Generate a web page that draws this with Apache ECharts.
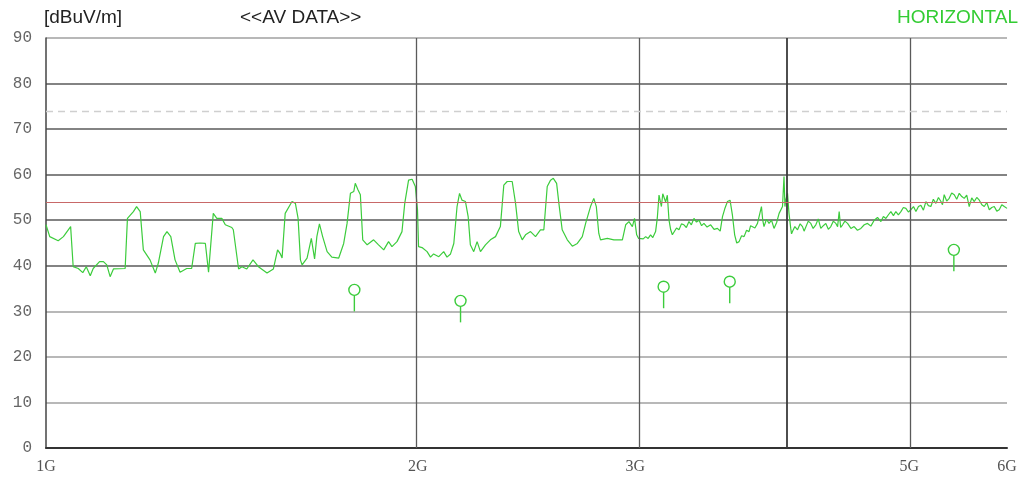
<!DOCTYPE html>
<html>
<head>
<meta charset="utf-8">
<script src="https://cdn.jsdelivr.net/npm/echarts@6/dist/echarts.min.js"></script>
<style>
  html, body { margin: 0; padding: 0; background: #fff; }
  #chart { width: 1023px; height: 483px; }
</style>
</head>
<body>
<div id="chart"></div>
<script>
// Average-detector sweep, 1 GHz - 6 GHz (frequency in MHz, level in dBuV/m)
const freqMHz = [
  1000, 1007, 1023, 1033, 1047, 1052, 1062, 1071, 1078, 1086, 1092, 1105, 1113, 1120, 1127, 1134,
  1159, 1164, 1177, 1184, 1192, 1199, 1214, 1226, 1233, 1245, 1253, 1262, 1272, 1284, 1300, 1312,
  1321, 1333, 1346, 1354, 1366, 1375, 1388, 1397, 1414, 1418, 1432, 1441, 1454, 1471, 1486, 1510,
  1528, 1540, 1548, 1553, 1562, 1582, 1592, 1600, 1607, 1612, 1627, 1640, 1650, 1657, 1665, 1675,
  1689, 1704, 1726, 1742, 1753, 1764, 1775, 1780, 1789, 1797, 1805, 1820, 1842, 1859, 1877, 1894,
  1906, 1924, 1942, 1952, 1966, 1979, 1991, 1999, 2003, 2016, 2035, 2048, 2060, 2080, 2099, 2112,
  2126, 2139, 2152, 2162, 2172, 2186, 2197, 2206, 2220, 2234, 2248, 2269, 2290, 2312, 2333, 2348,
  2363, 2385, 2400, 2414, 2430, 2445, 2468, 2491, 2514, 2530, 2546, 2562, 2575, 2591, 2602, 2618,
  2643, 2668, 2693, 2718, 2735, 2760, 2777, 2790, 2803, 2812, 2848, 2883, 2929, 2947, 2965, 2984,
  2996, 3008, 3019, 3030, 3045, 3059, 3073, 3087, 3100, 3116, 3126, 3136, 3150, 3158, 3165, 3175,
  3185, 3195, 3205, 3215, 3225, 3240, 3255, 3270, 3285, 3300, 3316, 3331, 3347, 3363, 3379, 3395,
  3410, 3430, 3453, 3475, 3497, 3515, 3530, 3545, 3563, 3580, 3596, 3611, 3625, 3641, 3658, 3675,
  3692, 3709, 3720, 3733, 3750, 3768, 3782, 3796, 3805, 3814, 3832, 3850, 3868, 3886, 3905, 3923,
  3948, 3959, 3966, 3972, 3985, 3996, 4009, 4015, 4022, 4040, 4060, 4080, 4098, 4110, 4123, 4142,
  4162, 4180, 4201, 4220, 4240, 4260, 4280, 4300, 4320, 4340, 4361, 4375, 4388, 4400, 4416, 4435,
  4457, 4485, 4512, 4540, 4569, 4598, 4626, 4655, 4684, 4713, 4743, 4765, 4787, 4810, 4832, 4855,
  4877, 4900, 4923, 4946, 4969, 4992, 5016, 5040, 5063, 5087, 5110, 5134, 5158, 5182, 5206, 5230,
  5255, 5280, 5305, 5320, 5337, 5362, 5387, 5412, 5438, 5463, 5489, 5515, 5540, 5566, 5592, 5618,
  5645, 5671, 5698, 5725, 5751, 5778, 5805, 5832, 5859, 5887, 5914, 5942, 5970, 6000
];
const levelAv = [
  49.0, 46.4, 45.5, 46.4, 48.6, 39.8, 39.4, 38.5, 39.8, 37.8, 39.4, 40.9, 40.9, 40.2, 37.6, 39.3,
  39.4, 50.4, 51.9, 53.0, 51.9, 43.5, 41.3, 38.4, 40.6, 46.4, 47.5, 46.4, 41.3, 38.6, 39.4, 39.4,
  44.9, 45.0, 44.9, 38.6, 51.5, 50.4, 50.4, 49.0, 48.4, 47.9, 39.3, 39.8, 39.3, 41.3, 39.8, 38.4,
  39.3, 43.5, 42.6, 41.7, 51.5, 54.1, 53.7, 50.4, 41.3, 40.2, 41.7, 46.0, 41.5, 46.4, 49.2, 46.4,
  43.1, 41.9, 41.7, 44.9, 49.3, 55.9, 56.3, 58.1, 56.7, 55.6, 45.7, 44.6, 45.7, 44.6, 43.5, 45.3,
  44.2, 45.3, 47.5, 53.7, 58.8, 59.0, 57.4, 52.3, 44.2, 44.0, 43.1, 41.9, 42.6, 42.0, 43.1, 41.9,
  42.6, 44.9, 53.0, 55.9, 54.4, 54.1, 50.8, 44.6, 43.1, 45.3, 43.1, 44.6, 45.7, 46.4, 48.6, 57.7,
  58.5, 58.5, 53.7, 47.5, 45.7, 46.8, 47.5, 46.4, 47.9, 47.9, 57.4, 58.8, 59.2, 58.1, 53.7, 47.9,
  45.7, 44.3, 44.9, 46.4, 49.3, 53.0, 54.8, 53.0, 47.1, 45.7, 46.0, 45.7, 45.7, 49.0, 49.7, 48.6,
  50.4, 46.8, 46.0, 46.4, 45.9, 46.4, 46.0, 46.8, 46.2, 47.5, 50.5, 55.5, 53.0, 55.8, 55.5, 54.0,
  55.5, 50.0, 47.9, 46.8, 47.1, 48.3, 47.9, 49.2, 49.0, 48.4, 49.7, 49.0, 50.4, 49.6, 50.0, 48.8,
  49.3, 48.5, 49.0, 48.0, 48.2, 47.6, 50.8, 52.5, 54.1, 54.4, 51.1, 46.8, 45.0, 45.3, 46.6, 46.4,
  47.8, 47.5, 48.8, 49.0, 48.3, 49.3, 49.0, 53.0, 50.0, 48.6, 50.2, 49.3, 50.0, 48.2, 49.5, 51.5,
  53.0, 59.6, 53.0, 54.4, 55.9, 51.5, 48.2, 47.0, 47.5, 48.6, 47.9, 49.2, 48.6, 47.6, 47.9, 49.8,
  49.3, 48.2, 49.0, 50.3, 48.2, 48.8, 49.3, 48.0, 48.6, 49.8, 49.3, 48.6, 51.9, 48.4, 49.0, 49.8,
  49.3, 48.2, 48.6, 47.8, 48.2, 49.0, 49.3, 48.7, 50.0, 50.6, 49.7, 50.8, 50.4, 51.2, 51.9, 51.0,
  51.9, 51.2, 51.9, 52.8, 52.6, 51.8, 52.3, 53.0, 51.9, 53.0, 53.3, 52.2, 54.1, 53.2, 53.0, 54.6,
  53.7, 55.0, 54.1, 53.4, 55.6, 54.2, 54.8, 56.0, 55.6, 54.6, 55.9, 55.2, 54.8, 55.5, 53.0, 54.9,
  54.1, 55.0, 54.4, 53.4, 53.0, 53.9, 52.3, 52.8, 53.0, 52.0, 52.3, 53.4, 53.0, 52.6
];

// Final measurement points
const peakFreqMHz = [1777, 2166, 3163, 3578, 5434];
const peakLevel = [34.7, 32.3, 35.4, 36.5, 43.5];

// Limit lines (dBuV/m)
const limitAv = 54;
const limitPk = 74;

// Frequency grid and labelled ticks (MHz)
const gridFreqMHz = [2000, 3000, 4000, 5000];
const labelFreqMHz = [1000, 2000, 3000, 5000, 6000];

const lg = Math.log10;
const fMin = 1000, fMax = 6000;
const traceGreen = '#3ccc3c';

const chart = echarts.init(document.getElementById('chart'), null, { renderer: 'canvas' });

const gridLines = gridFreqMHz.map(f => ({
  xAxis: lg(f),
  lineStyle: { color: f === 4000 ? '#3a3a3a' : '#5a5a5a', width: f === 4000 ? 1.8 : 1.3, type: 'solid' }
}));
gridLines.push({ xAxis: lg(fMax), lineStyle: { color: '#8a8a8a', width: 1.3, type: 'solid' } });
gridLines.push({ yAxis: limitPk, lineStyle: { color: '#cfcfcf', width: 1.3, type: [7, 5] } });
gridLines.push({ yAxis: limitAv, lineStyle: { color: '#c86868', width: 1.2, type: 'solid' } });

chart.setOption({
  animation: false,
  backgroundColor: '#fff',
  grid: { left: 46, right: 16, top: 38, bottom: 35, containLabel: false },
  graphic: [
    { type: 'text', left: 44, top: 8, style: { text: '[dBuV/m]', font: '19px "Liberation Sans", Arial, sans-serif', fill: '#222' } },
    { type: 'text', left: 240, top: 8, style: { text: '<<AV DATA>>', font: '19px "Liberation Sans", Arial, sans-serif', fill: '#222' } },
    { type: 'text', right: 5, top: 8, style: { text: 'HORIZONTAL', font: '19px "Liberation Sans", Arial, sans-serif', fill: '#33cc33' } }
  ],
  xAxis: {
    type: 'value',
    min: lg(fMin),
    max: lg(fMax),
    axisLine: { show: true, lineStyle: { color: '#333', width: 2 } },
    axisTick: { show: false },
    splitLine: { show: false },
    axisLabel: {
      customValues: labelFreqMHz.map(lg),
      showMinLabel: true,
      showMaxLabel: true,
      margin: 11,
      color: '#555',
      fontFamily: '"Liberation Serif", serif',
      fontSize: 16,
      formatter: v => Math.round(Math.pow(10, v) / 1000) + 'G'
    }
  },
  yAxis: {
    type: 'value',
    min: 0,
    max: 90,
    interval: 10,
    axisLine: { show: true, lineStyle: { color: '#444', width: 1.5 } },
    axisTick: { show: false },
    axisLabel: {
      margin: 14,
      color: '#666',
      fontFamily: '"Liberation Mono", monospace',
      fontSize: 16
    },
    splitLine: {
      show: true,
      lineStyle: {
        width: 1.5,
        color: ['#333', '#a0a0a0', '#a0a0a0', '#a0a0a0', '#5a5a5a', '#5a5a5a', '#5a5a5a', '#5a5a5a', '#5a5a5a', '#a0a0a0']
      }
    }
  },
  series: [
    {
      name: 'grid',
      type: 'line',
      data: [],
      z: 1,
      silent: true,
      markLine: {
        silent: true,
        symbol: ['none', 'none'],
        label: { show: false },
        emphasis: { disabled: true },
        data: gridLines
      }
    },
    {
      name: 'AV',
      type: 'line',
      z: 3,
      data: freqMHz.map((f, i) => [lg(f), levelAv[i]]),
      showSymbol: false,
      lineStyle: { color: traceGreen, width: 1.2 },
      silent: true
    },
    {
      name: 'final',
      type: 'custom',
      z: 4,
      data: peakFreqMHz.map((f, i) => [lg(f), peakLevel[i]]),
      renderItem: (params, api) => {
        const p = api.coord([api.value(0), api.value(1)]);
        const r = 5.5;
        return {
          type: 'group',
          children: [
            { type: 'circle', shape: { cx: p[0], cy: p[1], r: r }, style: { fill: 'none', stroke: traceGreen, lineWidth: 1.4 } },
            { type: 'line', shape: { x1: p[0], y1: p[1] + r, x2: p[0], y2: p[1] + r + 16 }, style: { stroke: traceGreen, lineWidth: 1.4 } }
          ]
        };
      }
    }
  ]
});
</script>
</body>
</html>
